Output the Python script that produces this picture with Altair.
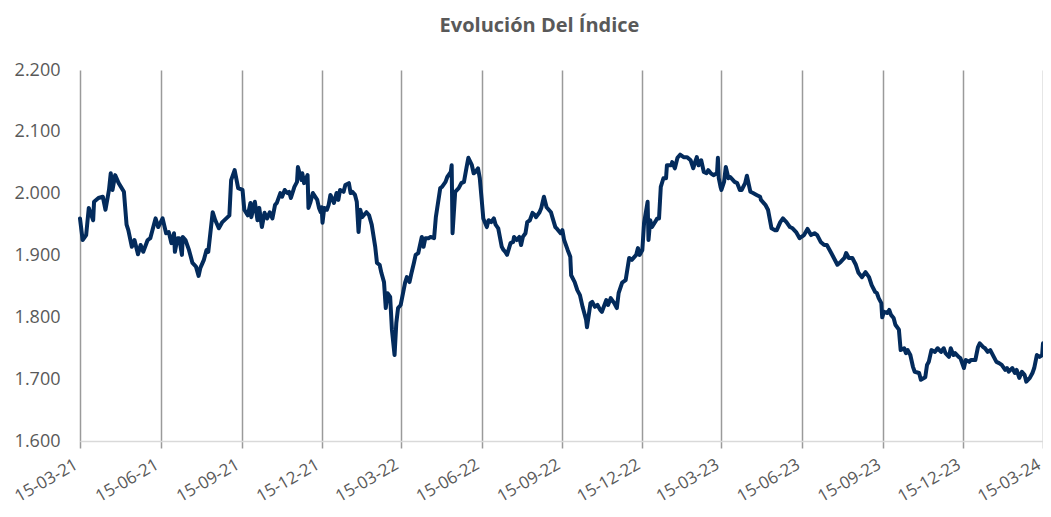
import altair as alt
import pandas as pd

DATES = [
    "2021-03-15", "2021-03-18", "2021-03-22", "2021-03-25", "2021-03-30", "2021-03-31", "2021-04-05", "2021-04-10",
    "2021-04-13", "2021-04-17", "2021-04-19", "2021-04-21", "2021-04-24", "2021-04-28", "2021-05-04", "2021-05-07",
    "2021-05-09", "2021-05-13", "2021-05-16", "2021-05-20", "2021-05-23", "2021-05-26", "2021-05-31", "2021-06-03",
    "2021-06-09", "2021-06-12",
    "2021-06-17", "2021-06-21", "2021-06-24", "2021-06-27", "2021-06-30", "2021-07-01", "2021-07-04", "2021-07-06",
    "2021-07-09", "2021-07-10", "2021-07-13", "2021-07-17", "2021-07-21", "2021-07-25", "2021-07-28", "2021-07-30",
    "2021-08-03", "2021-08-06", "2021-08-08", "2021-08-13", "2021-08-16", "2021-08-20", "2021-08-24", "2021-08-30",
    "2021-09-01", "2021-09-03", "2021-09-07", "2021-09-11",
    "2021-09-16", "2021-09-18", "2021-09-22", "2021-09-25", "2021-09-26", "2021-09-30", "2021-10-03", "2021-10-05",
    "2021-10-08", "2021-10-11", "2021-10-14", "2021-10-17", "2021-10-20", "2021-10-23", "2021-10-25", "2021-10-29",
    "2021-10-31", "2021-11-03", "2021-11-06", "2021-11-08", "2021-11-10", "2021-11-14", "2021-11-17", "2021-11-18",
    "2021-11-22", "2021-11-23", "2021-11-25", "2021-11-29", "2021-11-30", "2021-12-02", "2021-12-05", "2021-12-10",
    "2021-12-12", "2021-12-14",
    "2021-12-15", "2021-12-16", "2021-12-18", "2021-12-21", "2021-12-23", "2021-12-25", "2021-12-29", "2022-01-01",
    "2022-01-03", "2022-01-05", "2022-01-09", "2022-01-11", "2022-01-15", "2022-01-17", "2022-01-19", "2022-01-22",
    "2022-01-24", "2022-01-26", "2022-01-28", "2022-01-30", "2022-02-04", "2022-02-07", "2022-02-10", "2022-02-14",
    "2022-02-16", "2022-02-19", "2022-02-21", "2022-02-24", "2022-02-26", "2022-02-28", "2022-03-03", "2022-03-05",
    "2022-03-08", "2022-03-10", "2022-03-12",
    "2022-03-15", "2022-03-20", "2022-03-22", "2022-03-25", "2022-03-27", "2022-03-30", "2022-04-01", "2022-04-04",
    "2022-04-08", "2022-04-10", "2022-04-12", "2022-04-16", "2022-04-18", "2022-04-22", "2022-04-24", "2022-04-29",
    "2022-05-01", "2022-05-05", "2022-05-07", "2022-05-11", "2022-05-12", "2022-05-13", "2022-05-16", "2022-05-20",
    "2022-05-23", "2022-05-26", "2022-05-29", "2022-05-31", "2022-06-04", "2022-06-06", "2022-06-08", "2022-06-11",
    "2022-06-13",
    "2022-06-15", "2022-06-17", "2022-06-21", "2022-06-23", "2022-06-26", "2022-06-29", "2022-07-01", "2022-07-04",
    "2022-07-08", "2022-07-10", "2022-07-12", "2022-07-14", "2022-07-18", "2022-07-21", "2022-07-22", "2022-07-25",
    "2022-07-28", "2022-07-30", "2022-08-01", "2022-08-04", "2022-08-06", "2022-08-09", "2022-08-12", "2022-08-15",
    "2022-08-16", "2022-08-20", "2022-08-22", "2022-08-25", "2022-08-28", "2022-09-02", "2022-09-04", "2022-09-07",
    "2022-09-09", "2022-09-13",
    "2022-09-15", "2022-09-17", "2022-09-21", "2022-09-24", "2022-09-25", "2022-09-29", "2022-10-02", "2022-10-05",
    "2022-10-08", "2022-10-12", "2022-10-13", "2022-10-17", "2022-10-19", "2022-10-22", "2022-10-25", "2022-10-28",
    "2022-10-30", "2022-11-04", "2022-11-06", "2022-11-09", "2022-11-13", "2022-11-16", "2022-11-18", "2022-11-22",
    "2022-11-26", "2022-11-30", "2022-12-03", "2022-12-08", "2022-12-10", "2022-12-12",
    "2022-12-15", "2022-12-17", "2022-12-21", "2022-12-22", "2022-12-24", "2022-12-26", "2022-12-29", "2023-01-01",
    "2023-01-03", "2023-01-05", "2023-01-08", "2023-01-11", "2023-01-12", "2023-01-17", "2023-01-18", "2023-01-21",
    "2023-01-24", "2023-01-27", "2023-01-31", "2023-02-04", "2023-02-08", "2023-02-11", "2023-02-13", "2023-02-15",
    "2023-02-17", "2023-02-20", "2023-02-23", "2023-02-26", "2023-02-28", "2023-03-03", "2023-03-06", "2023-03-10",
    "2023-03-11", "2023-03-12", "2023-03-14",
    "2023-03-15", "2023-03-18", "2023-03-20", "2023-03-23", "2023-03-25", "2023-03-30", "2023-04-02", "2023-04-05",
    "2023-04-07", "2023-04-11", "2023-04-13", "2023-04-17", "2023-04-20", "2023-04-24", "2023-04-28", "2023-04-29",
    "2023-05-04", "2023-05-07", "2023-05-11", "2023-05-15", "2023-05-17", "2023-05-21", "2023-05-24", "2023-05-28",
    "2023-06-01", "2023-06-04", "2023-06-08", "2023-06-12",
    "2023-06-17", "2023-06-21", "2023-06-25", "2023-06-29", "2023-07-02", "2023-07-06", "2023-07-10", "2023-07-13",
    "2023-07-18", "2023-07-21", "2023-07-25", "2023-07-29", "2023-08-02", "2023-08-04", "2023-08-07", "2023-08-11",
    "2023-08-15", "2023-08-18", "2023-08-22", "2023-08-26", "2023-08-30", "2023-09-02", "2023-09-06", "2023-09-08",
    "2023-09-10", "2023-09-13", "2023-09-14",
    "2023-09-16", "2023-09-20", "2023-09-22", "2023-09-24", "2023-09-27", "2023-09-29", "2023-10-03", "2023-10-05",
    "2023-10-09", "2023-10-11", "2023-10-13", "2023-10-16", "2023-10-19", "2023-10-21", "2023-10-26", "2023-10-28",
    "2023-11-02", "2023-11-04", "2023-11-06", "2023-11-09", "2023-11-13", "2023-11-16", "2023-11-20", "2023-11-23",
    "2023-11-25", "2023-11-29", "2023-12-01", "2023-12-04", "2023-12-06", "2023-12-10", "2023-12-12",
    "2023-12-16", "2023-12-18", "2023-12-22", "2023-12-24", "2023-12-29", "2024-01-01", "2024-01-03", "2024-01-07",
    "2024-01-09", "2024-01-12", "2024-01-15", "2024-01-19", "2024-01-22", "2024-01-25", "2024-01-28", "2024-02-01",
    "2024-02-03", "2024-02-05", "2024-02-09", "2024-02-12", "2024-02-14", "2024-02-17", "2024-02-20", "2024-02-23",
    "2024-02-25", "2024-02-29", "2024-03-03", "2024-03-05", "2024-03-08", "2024-03-11", "2024-03-14", "2024-03-15",
]

VALUES = [
    1960, 1925, 1933, 1977, 1957, 1987, 1993, 1995,
    1974, 2006, 2033, 2006, 2030, 2017, 2003, 1950,
    1941, 1914, 1925, 1902, 1917, 1906, 1925, 1928,
    1960, 1946,
    1960, 1936, 1938, 1920, 1936, 1906, 1928, 1928,
    1901, 1930, 1925, 1909, 1888, 1882, 1867, 1880,
    1893, 1909, 1906, 1970, 1957, 1944, 1954, 1962,
    1965, 2022, 2038, 2009,
    2006, 1974, 1965, 1985, 1962, 1987, 1957, 1977,
    1946, 1969, 1960, 1970, 1960, 1982, 1985, 2001,
    1995, 2006, 2001, 2003, 1993, 2011, 2019, 2043,
    2022, 2033, 2017, 2030, 1977, 1985, 2001, 1990,
    1977, 1970,
    1978, 1953, 1977, 1974, 1982, 1998, 1985, 2001,
    1990, 2006, 2003, 2014, 2017, 2001, 2003, 1998,
    1987, 1938, 1974, 1962, 1970, 1965, 1950, 1914,
    1888, 1885, 1872, 1857, 1815, 1839, 1833, 1780,
    1739, 1791, 1815,
    1820, 1856, 1865, 1857, 1870, 1888, 1901, 1904,
    1930, 1914, 1928, 1928, 1930, 1928, 1962, 2009,
    2011, 2019, 2027, 2035, 2046, 1936, 2003, 2009,
    2017, 2019, 2043, 2058, 2046, 2033, 2035, 2041,
    2025,
    1993, 1960, 1946, 1957, 1954, 1960, 1950, 1944,
    1914, 1909, 1906, 1901, 1920, 1922, 1930, 1925,
    1930, 1917, 1930, 1936, 1954, 1957, 1969, 1965,
    1962, 1970, 1977, 1995, 1978, 1970, 1960, 1946,
    1943, 1936,
    1941, 1925, 1909, 1898, 1868, 1857, 1844, 1836,
    1817, 1796, 1784, 1823, 1825, 1817, 1820, 1812,
    1809, 1828, 1820, 1831, 1823, 1815, 1839, 1856,
    1860, 1896, 1893, 1901, 1912, 1901,
    1909, 1953, 1987, 1925, 1957, 1946, 1953, 1960,
    1960, 2011, 2025, 2025, 2046, 2046, 2051, 2041,
    2058, 2063, 2059, 2059, 2054, 2041, 2051, 2059,
    2046, 2054, 2035, 2033, 2038, 2033, 2030, 2033,
    2058, 2025, 2011,
    2006, 2019, 2043, 2025, 2027, 2019, 2017, 2006,
    2006, 2017, 2029, 2003, 2001, 1998, 1995, 1990,
    1982, 1974, 1944, 1941, 1941, 1954, 1960, 1954,
    1946, 1944, 1938, 1928,
    1933, 1943, 1933, 1936, 1933, 1922, 1917, 1917,
    1904, 1896, 1885, 1890, 1896, 1904, 1896, 1896,
    1885, 1872, 1865, 1873, 1865, 1852, 1841, 1839,
    1831, 1823, 1800,
    1809, 1807, 1812, 1804, 1799, 1788, 1780, 1747,
    1750, 1742, 1747, 1739, 1720, 1712, 1710, 1699,
    1703, 1723, 1728, 1747, 1744, 1750, 1744, 1750,
    1742, 1736, 1750, 1739, 1742, 1736, 1734,
    1718, 1731, 1728, 1731, 1731, 1752, 1758, 1752,
    1750, 1744, 1747, 1736, 1728, 1726, 1723, 1715,
    1718, 1712, 1718, 1710, 1715, 1702, 1712, 1707,
    1696, 1702, 1710, 1718, 1739, 1736, 1739, 1758,
]

X_TICKS = [
    (2021, 3, 15), (2021, 6, 15), (2021, 9, 15), (2021, 12, 15),
    (2022, 3, 15), (2022, 6, 15), (2022, 9, 15), (2022, 12, 15),
    (2023, 3, 15), (2023, 6, 15), (2023, 9, 15), (2023, 12, 15),
    (2024, 3, 15),
]
Y_TICKS = [1600, 1700, 1800, 1900, 2000, 2100, 2200]

TITLE = "Evolución Del Índice"

df = pd.DataFrame({"fecha": DATES, "indice": VALUES})

def dt(t):
    return alt.DateTime(year=t[0], month=t[1], date=t[2], utc=True)

tick_vals = [dt(t) for t in X_TICKS]
FONT = "Open Sans"
LABEL_COLOR = "#595959"
GRID = "#9a9a9a"

chart = (
    alt.Chart(df)
    .mark_line(color="#032b5c", strokeWidth=4, strokeJoin="round", strokeCap="round")
    .encode(
        x=alt.X(
            "fecha:T",
            scale=alt.Scale(type="utc", domain=[tick_vals[0], tick_vals[-1]], nice=False),
            axis=alt.Axis(
                values=tick_vals,
                labelExpr="utcFormat(datum.value, '%d-%m-%y')",
                labelAngle=330,
                labelAlign="right",
                labelBaseline="middle",
                labelOffset=-4,
                grid=True,
                gridColor=GRID,
                gridWidth=1.5,
                ticks=True,
                tickColor=GRID,
                tickSize=7,
                tickWidth=1.5,
                domainColor="#d9d9d9",
                domainWidth=1.5,
                labelFont=FONT,
                labelFontSize=17,
                labelColor=LABEL_COLOR,
                labelPadding=15,
                labelOverlap=False,
                labelBound=False,
                title=None,
            ),
        ),
        y=alt.Y(
            "indice:Q",
            scale=alt.Scale(domain=[Y_TICKS[0], Y_TICKS[-1]], nice=False, zero=False),
            axis=alt.Axis(
                values=Y_TICKS,
                labelExpr="replace(format(datum.value, ',.0f'), ',', '.')",
                grid=False,
                ticks=False,
                domain=False,
                labelFont=FONT,
                labelFontSize=18,
                labelColor=LABEL_COLOR,
                labelPadding=20,
                title=None,
            ),
        ),
    )
    .properties(
        width=963,
        height=371,
        title=alt.TitleParams(
            TITLE,
            font=FONT,
            fontSize=20,
            fontWeight="bold",
            color=LABEL_COLOR,
            anchor="middle",
            dx=-22,
            offset=25,
        ),
        autosize=alt.AutoSizeParams(type="none"),
        padding={"left": 72, "top": 62, "right": 0, "bottom": 66},
    )
    .configure_view(stroke=None)
)

chart.save("out.html", embed_options={"renderer": "svg", "actions": False})
